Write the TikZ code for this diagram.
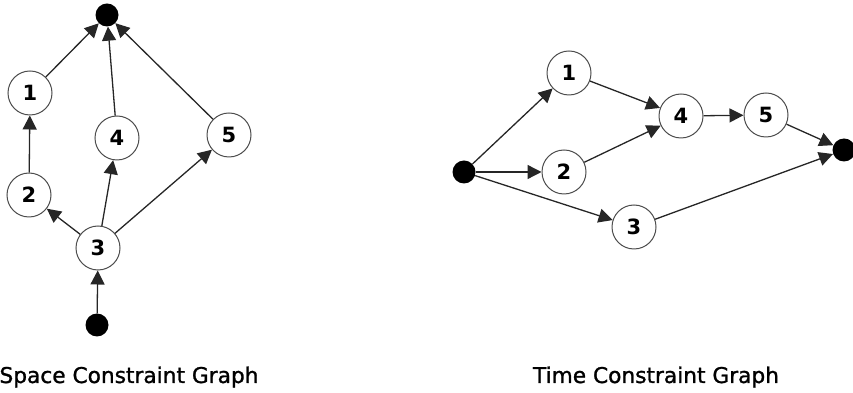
\documentclass[tikz,border=0pt]{standalone}
\usepackage{fontspec}
\setmainfont{DejaVu Sans}
\usepackage{tikz}
\usetikzlibrary{arrows.meta,positioning}

\begin{document}
\begin{tikzpicture}[
  x=1pt, y=1pt,
  vert/.style={circle, draw=black!70, line width=1pt, minimum size=44pt, inner sep=0pt,
    font=\fontsize{21}{21}\selectfont\bfseries},
  endpt/.style={circle, fill=black, minimum size=23pt, inner sep=0pt},
  arr/.style={-{Triangle[length=14pt,width=14pt]}, line width=1.3pt, draw=black!85},
  graphcaption/.style={anchor=base, font=\fontsize{21.7}{26}\selectfont\addfontfeature{FakeBold=1.2}}]
\useasboundingbox (0,0) rectangle (853,393);

\node[endpt] (sTop) at (107,378) {};
\node[vert] (s1) at (30,300) {1};
\node[vert] (s4) at (117,255) {4};
\node[vert] (s5) at (229,258) {5};
\node[vert] (s2) at (29,198) {2};
\node[vert] (s3) at (98,145) {3};
\node[endpt] (sBot) at (97,68) {};
\node[graphcaption] (sCap) at (129,10) {Space Constraint Graph};

\draw[arr] (s1) -- (sTop);
\draw[arr] (s4) -- (sTop);
\draw[arr] (s5) -- (sTop);
\draw[arr] (s2) -- (s1);
\draw[arr] (s3) -- (s2);
\draw[arr] (s3) -- (s4);
\draw[arr] (s3) -- (s5);
\draw[arr] (sBot) -- (s3);

\node[endpt] (tSrc) at (464,221) {};
\node[vert] (t1) at (569,320) {1};
\node[vert] (t2) at (564,221) {2};
\node[vert] (t3) at (634,166) {3};
\node[vert] (t4) at (681,277) {4};
\node[vert] (t5) at (766,278) {5};
\node[endpt] (tSink) at (844,243) {};
\node[graphcaption] (tCap) at (656,10) {Time Constraint Graph};

\draw[arr] (tSrc) -- (t1);
\draw[arr] (tSrc) -- (t2);
\draw[arr] (tSrc) -- (t3);
\draw[arr] (t1) -- (t4);
\draw[arr] (t2) -- (t4);
\draw[arr] (t4) -- (t5);
\draw[arr] (t5) -- (tSink);
\draw[arr] (t3) -- (tSink);
\end{tikzpicture}
\end{document}
